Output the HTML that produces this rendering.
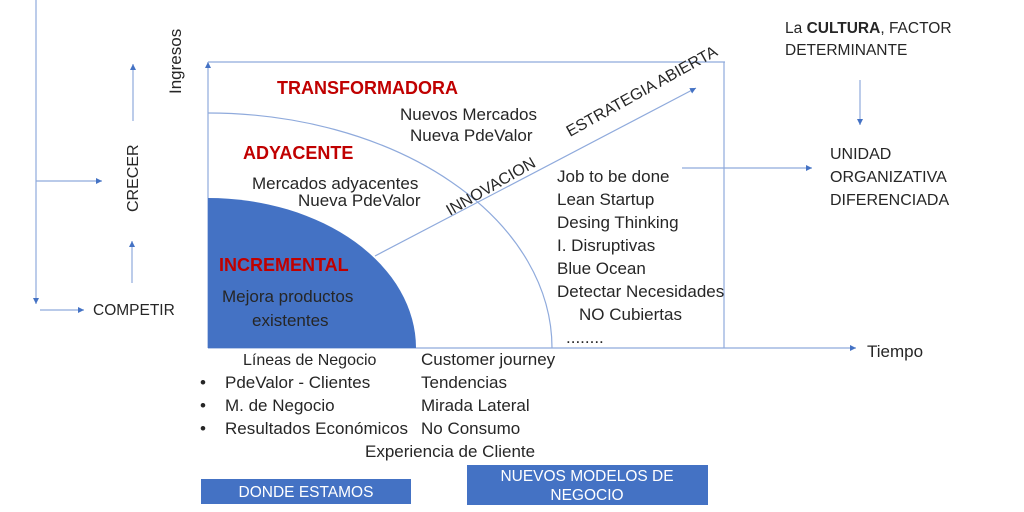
<!DOCTYPE html>
<html><head><meta charset="utf-8"><style>
html,body{margin:0;padding:0;background:#fff;width:1024px;height:512px;overflow:hidden}
svg text{font-family:"Liberation Sans",sans-serif;font-size:17px;fill:#262626}
.r{fill:#c00000;font-weight:bold;font-size:18px}
.w{fill:#fff;font-size:15.5px}
.s{font-size:15.5px}
.m{font-size:16px}
</style></head><body>
<svg width="1024" height="512" viewBox="0 0 1024 512">
<defs><marker id="a" markerWidth="8" markerHeight="8" refX="6" refY="3" orient="auto" markerUnits="userSpaceOnUse"><path d="M0,0 L6,3 L0,6z" fill="#4472c4"/></marker></defs>
<g stroke="#8faadc" stroke-width="1.2" fill="none">
<line x1="36" y1="0" x2="36" y2="304" marker-end="url(#a)"/>
<line x1="36" y1="181" x2="102" y2="181" marker-end="url(#a)"/>
<line x1="40" y1="310" x2="84" y2="310" marker-end="url(#a)"/>
<line x1="133" y1="121" x2="133" y2="64" marker-end="url(#a)"/>
<line x1="132" y1="283" x2="132" y2="241" marker-end="url(#a)"/>
<line x1="208" y1="348" x2="208" y2="62" marker-end="url(#a)"/>
<line x1="208" y1="62" x2="725" y2="62"/>
<line x1="724" y1="62" x2="724" y2="348"/>
<line x1="208" y1="348" x2="856" y2="348" marker-end="url(#a)"/>
<line x1="860" y1="80" x2="860" y2="125" marker-end="url(#a)"/>
<line x1="682" y1="168" x2="812" y2="168" marker-end="url(#a)"/>
<path d="M208,113 A344,235 0 0 1 552,348"/>
<line x1="375" y1="256" x2="696" y2="88" marker-end="url(#a)"/>
</g>
<path d="M208,348 L208,198 A208,150 0 0 1 416,348 Z" fill="#4472c4"/>
<text class="s" x="93" y="315">COMPETIR</text>
<text class="m" transform="translate(138,212) rotate(-90)">CRECER</text>
<text transform="translate(181,94) rotate(-90)">Ingresos</text>
<text class="r" x="277" y="94">TRANSFORMADORA</text>
<text x="400" y="120">Nuevos Mercados</text>
<text x="410" y="141">Nueva PdeValor</text>
<text class="r" x="243" y="159">ADYACENTE</text>
<text x="252" y="189">Mercados adyacentes</text>
<text x="298" y="206">Nueva PdeValor</text>
<text class="r" x="219" y="271">INCREMENTAL</text>
<text x="222" y="302">Mejora productos</text>
<text x="252" y="326">existentes</text>
<text class="m" transform="translate(450,216) rotate(-30)">INNOVACION</text>
<text class="m" transform="translate(570,137) rotate(-29)">ESTRATEGIA ABIERTA</text>
<text x="557" y="182">Job to be done</text>
<text x="557" y="205">Lean Startup</text>
<text x="557" y="228">Desing Thinking</text>
<text x="557" y="251">I. Disruptivas</text>
<text x="557" y="274">Blue Ocean</text>
<text x="557" y="297">Detectar Necesidades</text>
<text x="579" y="320">NO Cubiertas</text>
<text x="566" y="343">........</text>
<text class="s" x="785" y="33">La <tspan font-weight="bold">CULTURA</tspan>, FACTOR</text>
<text class="s" x="785" y="55">DETERMINANTE</text>
<text class="m" x="830" y="159">UNIDAD</text>
<text class="m" x="830" y="182">ORGANIZATIVA</text>
<text class="m" x="830" y="205">DIFERENCIADA</text>
<text x="867" y="357">Tiempo</text>
<text class="m" x="243" y="365">Líneas de Negocio</text>
<text x="200" y="388">•</text><text x="225" y="388">PdeValor - Clientes</text>
<text x="200" y="411">•</text><text x="225" y="411">M. de Negocio</text>
<text x="200" y="434">•</text><text x="225" y="434" textLength="183">Resultados Económicos</text>
<text x="421" y="365">Customer journey</text>
<text x="421" y="388">Tendencias</text>
<text x="421" y="411">Mirada Lateral</text>
<text x="421" y="434">No Consumo</text>
<text x="365" y="457">Experiencia de Cliente</text>
<rect x="201" y="479" width="210" height="25" fill="#4472c4"/>
<text class="w" x="306" y="497" text-anchor="middle">DONDE ESTAMOS</text>
<rect x="467" y="465" width="241" height="40" fill="#4472c4"/>
<text class="w" x="587" y="481" text-anchor="middle">NUEVOS MODELOS DE</text>
<text class="w" x="587" y="500" text-anchor="middle">NEGOCIO</text>
</svg>
</body></html>
